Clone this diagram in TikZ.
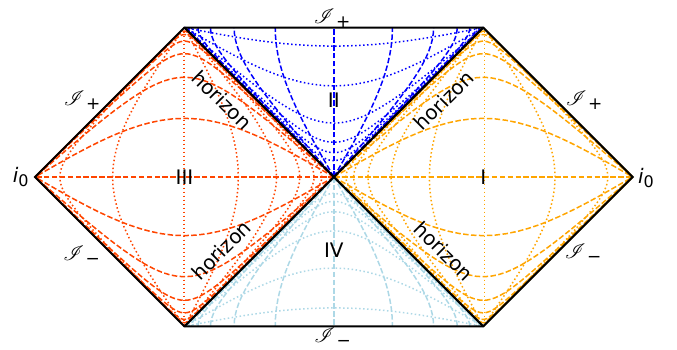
\documentclass[tikz,border=0pt]{standalone}
\usepackage{fontspec}
\setmainfont{DejaVu Sans}
\usepackage{mathrsfs}
\definecolor{cI}{HTML}{FFA500}
\definecolor{cIII}{HTML}{FF4500}
\definecolor{cII}{HTML}{0000FF}
\definecolor{cIV}{HTML}{ADD8E6}
\newcommand{\scrilab}[1]{{\fontsize{20}{20}\selectfont$\mathscr{I}$}\kern1.5pt\raisebox{-4pt}{\fontsize{17}{17}\selectfont #1}}
\newcommand{\ionode}{{\fontsize{20}{20}\selectfont\itshape i}\raisebox{-4pt}{\fontsize{16}{16}\selectfont 0}}
\begin{document}
\begin{tikzpicture}[x=1pt,y=1pt,
  declare function={g(\x)=45+((\x>0)-(\x<0))*(45-atan(exp(-abs(\x))));},
  rline/.style={line width=1.5pt, dash pattern=on 1.5pt off 2.5pt},
  tline/.style={line width=1.5pt, dash pattern=on 5.5pt off 2.4pt},
  bound/.style={line width=2pt, black, line join=miter},
  lab/.style={font=\fontsize{20}{24}\selectfont, inner sep=0pt},
  slab/.style={inner sep=0pt}]
\useasboundingbox (0,0) rectangle (677,350);
\begin{scope}[shift={(333.85,173)}, x=1.66pt, y=1.66pt]
  \coordinate (O) at (0,0);
  \coordinate (L) at (-180,0);
  \coordinate (R) at (180,0);
  \coordinate (TL) at (-90,90);
  \coordinate (TR) at (90,90);
  \coordinate (BL) at (-90,-90);
  \coordinate (BR) at (90,-90);
  \coordinate (VT) at (90.6,90);
  \coordinate (VB) at (90.6,-90);
  \coordinate (WT) at (-90.3,90);
  \coordinate (WB) at (-90.3,-90);
  % Region I
  \draw[rline, cI] (VT) -- (VB);
  \foreach \pp in {-2.76,-2.26,-1.71,-1.17,-0.60,0.84,2.03}
    \draw[rline, cI] plot[domain=-11:11, samples=151, variable=\w]
      ({g(\pp+\w)+g(\pp-\w)},{g(\pp+\w)-g(\pp-\w)});
  \foreach \qq in {-3.96,-3.3,-2.64,-1.98,-1.32,-0.66,0,0.66,1.32,1.98,2.64,3.3,3.96}
    \draw[tline, cI] plot[domain=-12:12, samples=161, variable=\w]
      ({g(\w+\qq)+g(\w-\qq)},{g(\w+\qq)-g(\w-\qq)});
  % Region III
  \draw[rline, cIII] (WT) -- (WB);
  \begin{scope}[xscale=-1]
  \foreach \pp in {-2.76,-2.26,-1.71,-1.17,-0.60,0.84,2.03}
    \draw[rline, cIII] plot[domain=-11:11, samples=151, variable=\w]
      ({g(\pp+\w)+g(\pp-\w)},{g(\pp+\w)-g(\pp-\w)});
  \foreach \qq in {-3.96,-3.3,-2.64,-1.98,-1.32,-0.66,0,0.66,1.32,1.98,2.64,3.3,3.96}
    \draw[tline, cIII] plot[domain=-12:12, samples=161, variable=\w]
      ({g(\w+\qq)+g(\w-\qq)},{g(\w+\qq)-g(\w-\qq)});
  \end{scope}
  % Region II
  \foreach \pp in {-0.196,-0.656,-1.234,-1.69,-2.05,-2.45}
    \draw[rline, cII] plot[domain=-11:11, samples=151, variable=\w]
      ({g(\pp+\w)-g(\pp-\w)},{g(\pp+\w)+g(\pp-\w)});
  \foreach \qq in {-3.96,-3.3,-2.64,-1.98,-1.32,-0.66,0,0.66,1.32,1.98,2.64,3.3,3.96}
    \draw[tline, cII] plot[domain=-12:0, samples=101, variable=\w]
      ({g(\w+\qq)-g(\w-\qq)},{g(\w+\qq)+g(\w-\qq)});
  % Region IV
  \begin{scope}[yscale=-1]
  \foreach \pp in {-0.196,-0.656,-1.234,-1.69,-2.05,-2.45}
    \draw[rline, cIV] plot[domain=-11:11, samples=151, variable=\w]
      ({g(\pp+\w)-g(\pp-\w)},{g(\pp+\w)+g(\pp-\w)});
  \foreach \qq in {-3.96,-3.3,-2.64,-1.98,-1.32,-0.66,0,0.66,1.32,1.98,2.64,3.3,3.96}
    \draw[tline, cIV] plot[domain=-12:0, samples=101, variable=\w]
      ({g(\w+\qq)-g(\w-\qq)},{g(\w+\qq)+g(\w-\qq)});
  \end{scope}
  % boundaries
  \draw[bound] (L) -- (TL) -- (TR) -- (R) -- (BR) -- (BL) -- cycle;
  \draw[bound] (TL) -- (O) -- (BR);
  \draw[bound] (TR) -- (O) -- (BL);
  % labels
  \node[lab] (lI) at (90,0) {I};
  \node[lab] (lII) at (0,46) {II};
  \node[lab] (lIII) at (-90,0) {III};
  \node[lab] (lIV) at (0,-44) {IV};
  \node[lab, rotate=45] (hTR) at (66.3,46.1) {horizon};
  \node[lab, rotate=-45] (hTL) at (-67.2,46.4) {horizon};
  \node[lab, rotate=45] (hBL) at (-67.8,-44) {horizon};
  \node[lab, rotate=-45] (hBR) at (66.3,-44.6) {horizon};
  \node[slab] (iL) at (-188.6,-0.2) {\ionode};
  \node[slab] (iR) at (188,-0.6) {\ionode};
  \node[slab] (sTR) at (150.7,46.4) {\scrilab{+}};
  \node[slab] (sTL) at (-151.7,46.4) {\scrilab{+}};
  \node[slab] (sBL) at (-151.9,-47) {\scrilab{−}};
  \node[slab] (sBR) at (150.1,-45.8) {\scrilab{−}};
  \node[slab] (sT) at (-1.1,95.8) {\scrilab{+}};
  \node[slab] (sB) at (-0.8,-96.3) {\scrilab{−}};
\end{scope}
\end{tikzpicture}
\end{document}
